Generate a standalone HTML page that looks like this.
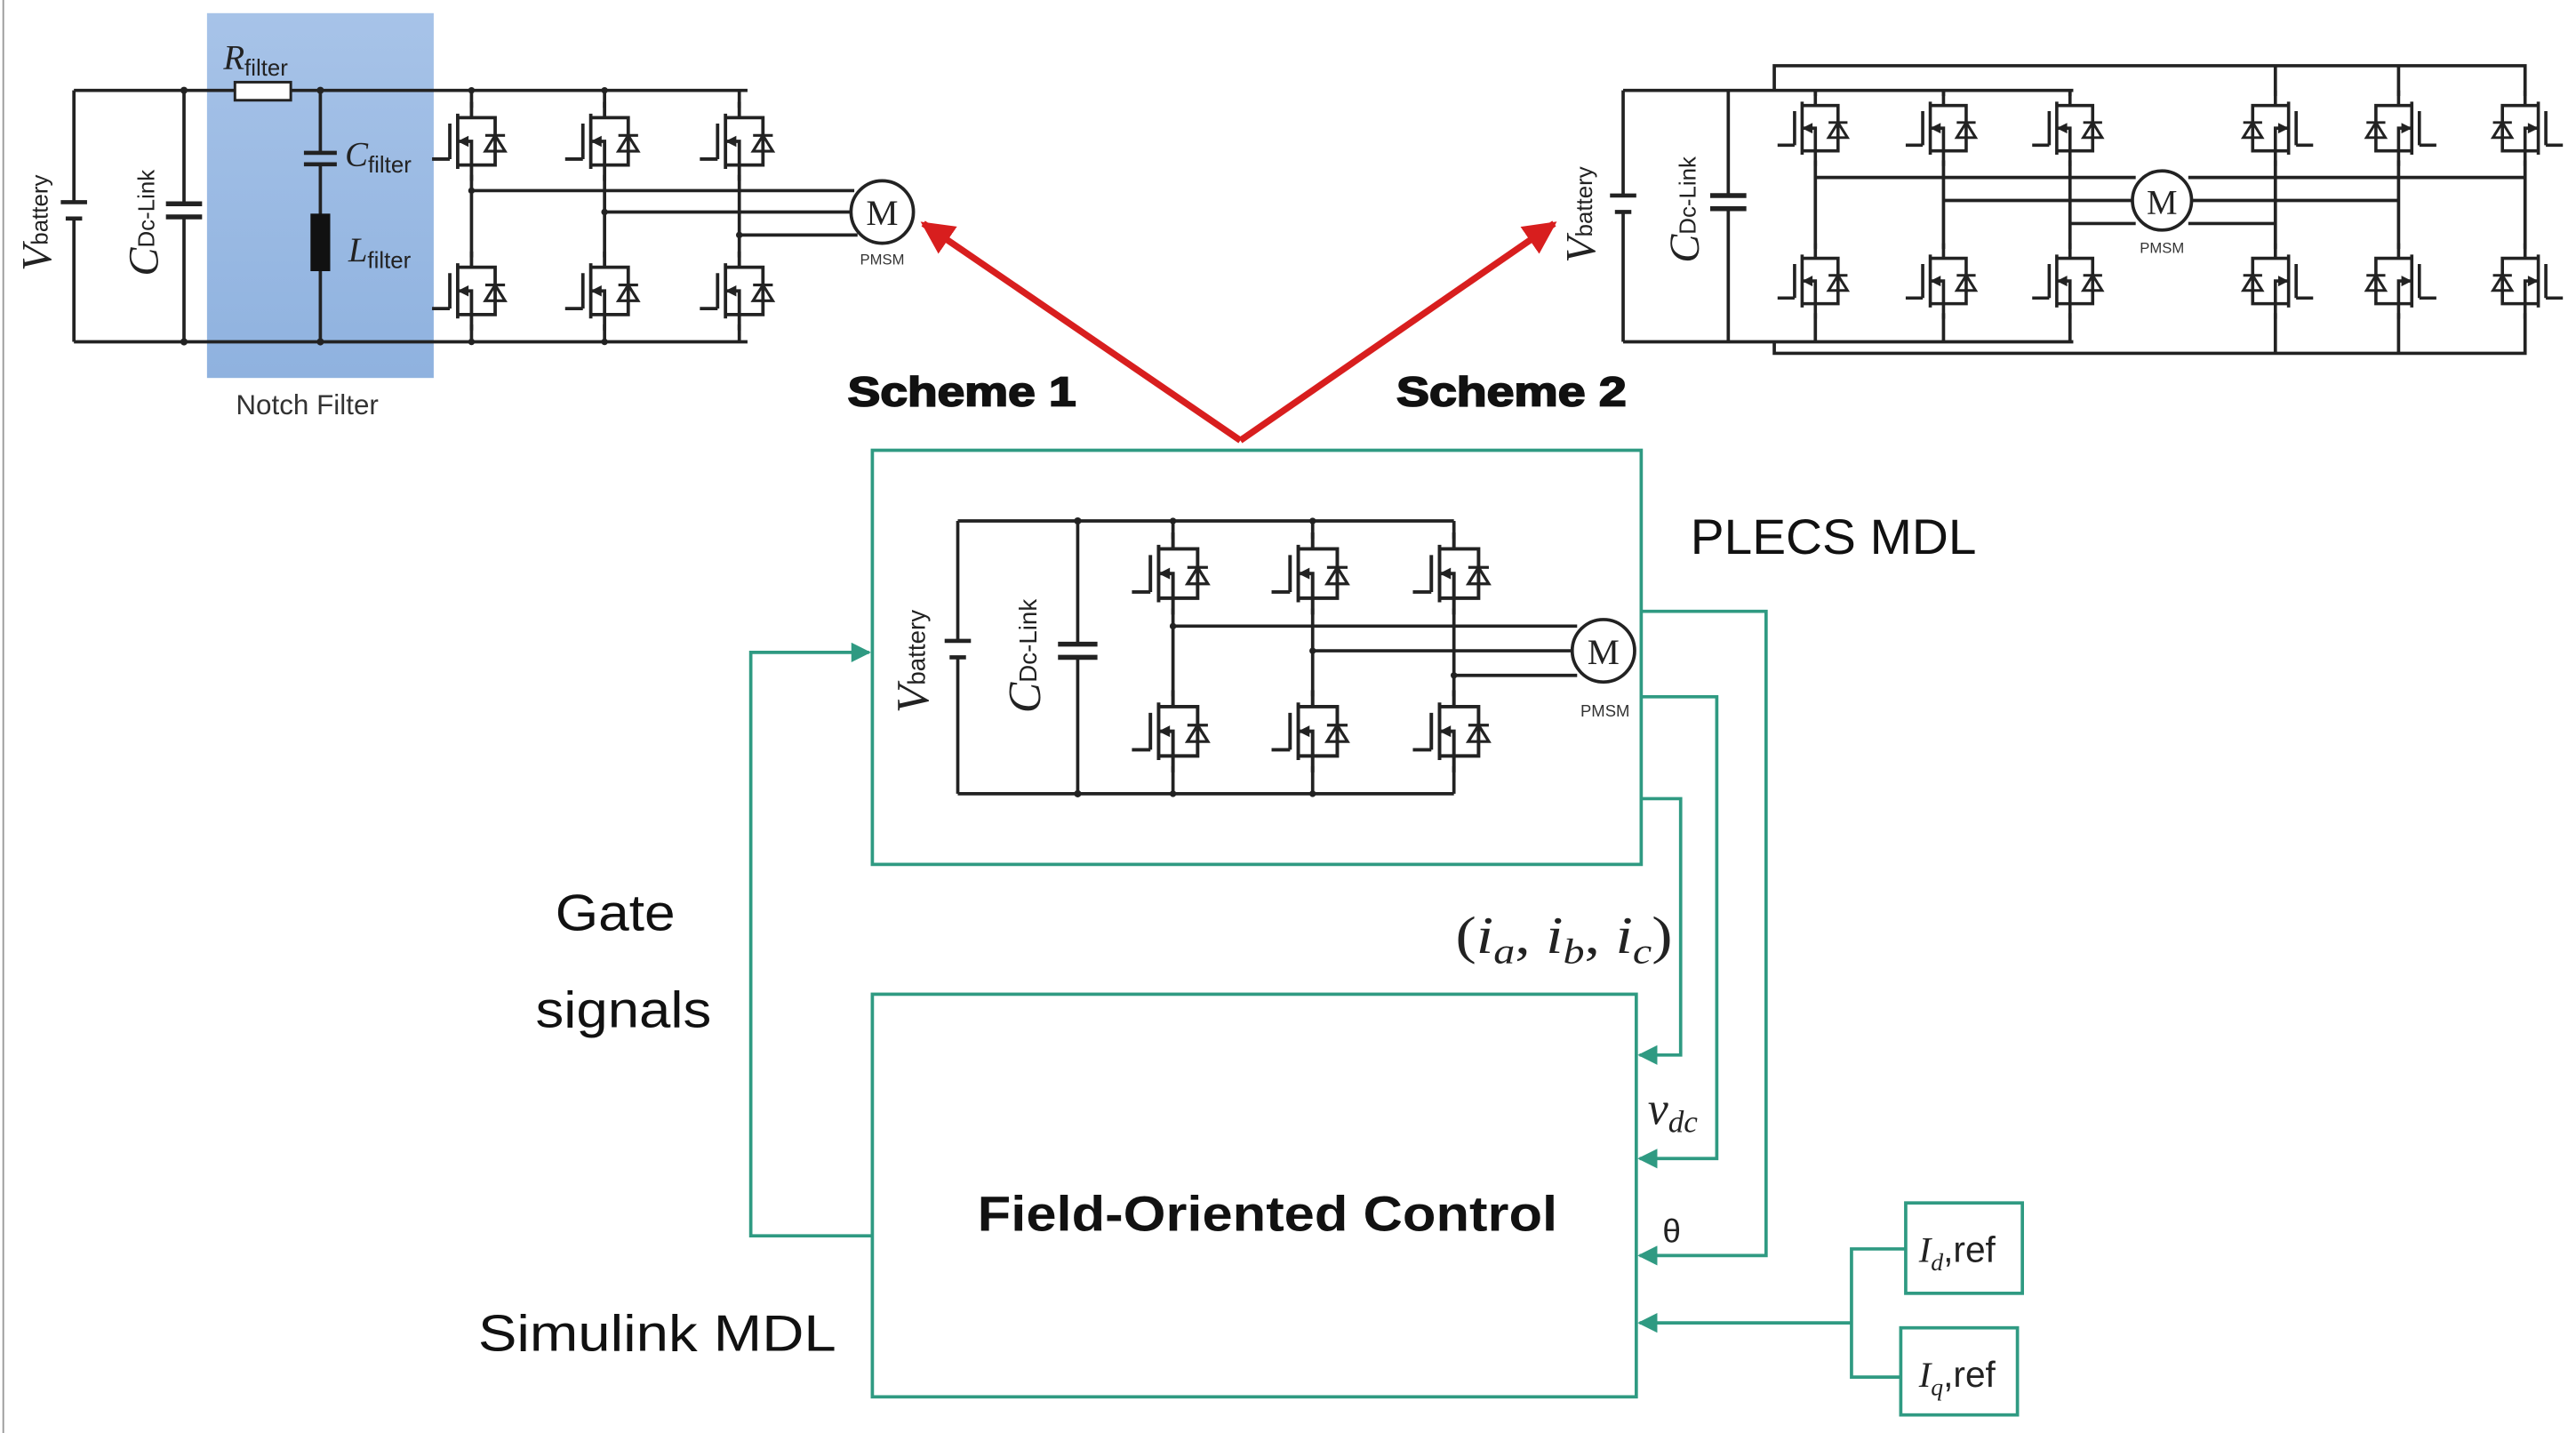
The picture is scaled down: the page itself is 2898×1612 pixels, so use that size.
<!DOCTYPE html>
<html><head><meta charset="utf-8"><style>
html,body{margin:0;padding:0;background:#fff;}
svg{display:block;}
</style></head><body>
<svg width="2898" height="1612" viewBox="0 0 1568 872" preserveAspectRatio="none" xmlns="http://www.w3.org/2000/svg">
<defs>
<g id="sw">
<rect x="-17" y="-17" width="36" height="34" fill="#fff"/>
<g fill="none" stroke="#222" stroke-width="1.7">
<path d="M0,-20 V-12 H-7 M-7,-14 V14 M-11,-9 V9 M-20,9 H-11 M-7,12 H0 V20 M-7,0 H0 V12 M0,-12 H12 V12 H0"/>
<path d="M7,5 L12,-3 L17,5 Z" stroke-width="1.4"/>
<path d="M7,-3 H17" stroke-width="1.4"/>
<path d="M-6,0 L-2,-2 L-2,2 Z" fill="#222" stroke-width="1"/>
</g>
</g>
<linearGradient id="bg" x1="0" y1="0" x2="0" y2="1"><stop offset="0" stop-color="#a7c3e8"/><stop offset="1" stop-color="#8fb2df"/></linearGradient>
<marker id="ar" viewBox="0 0 10 10" refX="9" refY="5" markerWidth="5" markerHeight="5" orient="auto"><path d="M0,0 L10,5 L0,10 Z" fill="#d81e1e"/></marker>
<marker id="ag" viewBox="0 0 10 10" refX="9" refY="5" markerWidth="6" markerHeight="6" orient="auto"><path d="M0,0 L10,5 L0,10 Z" fill="#2f9a82"/></marker>
</defs>
<line x1="2" y1="0" x2="2" y2="872" stroke="#999" stroke-width="1"/>

<!-- LEFT CIRCUIT -->
<rect x="126" y="8" width="138" height="222" fill="url(#bg)"/>
<g stroke="#222" stroke-width="2" fill="none">
<path d="M45,55 H143 M177,55 H455 M45,208 H455 M45,55 V123 M45,133 V208 M112,55 V124 M112,132 V208 M195,55 V93 M195,100 V208"/>
<rect x="143" y="50" width="34" height="11" fill="#fff" stroke-width="1.6"/>
<path d="M37,123 H53 M40,133 H50" stroke-width="2.5"/>
<path d="M101,124 H123 M101,132 H123" stroke-width="3"/>
<path d="M185,93 H205 M185,100 H205" stroke-width="2.5"/>
<path d="M287,55 V208 M368,55 V208 M450,55 V208 M287,116 H520 M368,129 H518 M450,143 H522"/>
<circle cx="537" cy="129" r="19" fill="#fff"/>
</g>
<rect x="189" y="130" width="12" height="35" fill="#111"/>
<g fill="#222"><circle cx="112" cy="55" r="2.2"/><circle cx="112" cy="208" r="2.2"/><circle cx="195" cy="55" r="2.2"/><circle cx="195" cy="208" r="2.2"/><circle cx="287" cy="55" r="2"/><circle cx="368" cy="55" r="2"/><circle cx="287" cy="208" r="2"/><circle cx="368" cy="208" r="2"/><circle cx="287" cy="116" r="2"/><circle cx="368" cy="129" r="2"/><circle cx="450" cy="143" r="2"/></g>
<use href="#sw" transform="translate(287,86) scale(1.2)"/><use href="#sw" transform="translate(368,86) scale(1.2)"/><use href="#sw" transform="translate(450,86) scale(1.2)"/>
<use href="#sw" transform="translate(287,177) scale(1.2)"/><use href="#sw" transform="translate(368,177) scale(1.2)"/><use href="#sw" transform="translate(450,177) scale(1.2)"/>
<text x="537" y="137" font-family="Liberation Serif" font-size="22" text-anchor="middle" fill="#222">M</text>
<text x="537" y="161" font-family="Liberation Sans" font-size="9" text-anchor="middle" fill="#333">PMSM</text>
<text x="136" y="42" font-family="Liberation Serif" font-style="italic" font-size="21" fill="#222">R<tspan font-size="14" font-style="normal" font-family="Liberation Sans" dy="4">filter</tspan></text>
<text x="210" y="101" font-family="Liberation Serif" font-style="italic" font-size="21" fill="#222">C<tspan font-size="14" font-style="normal" font-family="Liberation Sans" dy="4">filter</tspan></text>
<text x="212" y="159" font-family="Liberation Serif" font-style="italic" font-size="21" fill="#222">L<tspan font-size="14" font-style="normal" font-family="Liberation Sans" dy="4">filter</tspan></text>
<text transform="translate(31,165) rotate(-90)" font-family="Liberation Serif" font-style="italic" font-size="26" fill="#222">V<tspan font-size="14" font-style="normal" font-family="Liberation Sans" dy="-2">battery</tspan></text>
<text transform="translate(96,168) rotate(-90)" font-family="Liberation Serif" font-style="italic" font-size="26" fill="#222">C<tspan font-size="14" font-style="normal" font-family="Liberation Sans" dy="-2">Dc-Link</tspan></text>
<text x="187" y="252" font-family="Liberation Sans" font-size="17" text-anchor="middle" fill="#333">Notch Filter</text>

<!-- RIGHT CIRCUIT -->
<g stroke="#222" stroke-width="2" fill="none">
<path d="M988,55 H1262 M988,208 H1262 M988,55 V119 M988,129 V208 M1052,55 V119 M1052,127 V208"/>
<path d="M980,119 H996 M983,129 H993" stroke-width="2.5"/>
<path d="M1041,119 H1063 M1041,127 H1063" stroke-width="3"/>
<path d="M1080,55 V40 H1537 V215 H1080 V208 M1385,40 V215 M1460,40 V215"/>
<path d="M1105,55 V208 M1183,55 V208 M1260,55 V208"/>
<path d="M1105,108 H1300 M1332,108 H1537 M1183,122 H1298 M1334,122 H1460 M1260,136 H1300 M1332,136 H1385"/>
<circle cx="1316" cy="122" r="18" fill="#fff"/>
</g>
<use href="#sw" transform="translate(1105,78) scale(1.15)"/><use href="#sw" transform="translate(1183,78) scale(1.15)"/><use href="#sw" transform="translate(1260,78) scale(1.15)"/>
<use href="#sw" transform="translate(1105,171) scale(1.15)"/><use href="#sw" transform="translate(1183,171) scale(1.15)"/><use href="#sw" transform="translate(1260,171) scale(1.15)"/>
<use href="#sw" transform="translate(1385,78) scale(-1.15,1.15)"/><use href="#sw" transform="translate(1460,78) scale(-1.15,1.15)"/><use href="#sw" transform="translate(1537,78) scale(-1.15,1.15)"/>
<use href="#sw" transform="translate(1385,171) scale(-1.15,1.15)"/><use href="#sw" transform="translate(1460,171) scale(-1.15,1.15)"/><use href="#sw" transform="translate(1537,171) scale(-1.15,1.15)"/>
<text x="1316" y="130" font-family="Liberation Serif" font-size="21" text-anchor="middle" fill="#222">M</text>
<text x="1316" y="154" font-family="Liberation Sans" font-size="9" text-anchor="middle" fill="#333">PMSM</text>
<text transform="translate(971,160) rotate(-90)" font-family="Liberation Serif" font-style="italic" font-size="26" fill="#222">V<tspan font-size="14" font-style="normal" font-family="Liberation Sans" dy="-2">battery</tspan></text>
<text transform="translate(1034,160) rotate(-90)" font-family="Liberation Serif" font-style="italic" font-size="26" fill="#222">C<tspan font-size="14" font-style="normal" font-family="Liberation Sans" dy="-2">Dc-Link</tspan></text>

<!-- red arrows -->
<path d="M755,268 L562,136" stroke="#d81e1e" stroke-width="4" fill="none" marker-end="url(#ar)"/>
<path d="M755,268 L946,136" stroke="#d81e1e" stroke-width="4" fill="none" marker-end="url(#ar)"/>
<text x="516" y="247" font-family="Liberation Sans" font-weight="bold" font-size="25" textLength="139" lengthAdjust="spacingAndGlyphs" fill="#111" stroke="#111" stroke-width="1">Scheme 1</text>
<text x="850" y="247" font-family="Liberation Sans" font-weight="bold" font-size="25" textLength="140" lengthAdjust="spacingAndGlyphs" fill="#111" stroke="#111" stroke-width="1">Scheme 2</text>

<!-- PLECS box -->
<rect x="531" y="274" width="468" height="252" fill="none" stroke="#2f9a82" stroke-width="2"/>
<g stroke="#222" stroke-width="2" fill="none">
<path d="M583,317 H885 M583,483 H885 M583,317 V390 M583,400 V483 M656,317 V392 M656,400 V483"/>
<path d="M575,390 H591 M578,400 H588" stroke-width="2.5"/>
<path d="M644,392 H668 M644,400 H668" stroke-width="3"/>
<path d="M714,317 V483 M799,317 V483 M885,317 V483 M714,381 H960 M799,396 H957 M885,411 H960"/>
<circle cx="976" cy="396" r="19" fill="#fff"/>
</g>
<g fill="#222"><circle cx="656" cy="317" r="2.2"/><circle cx="656" cy="483" r="2.2"/><circle cx="714" cy="317" r="2"/><circle cx="799" cy="317" r="2"/><circle cx="714" cy="483" r="2"/><circle cx="799" cy="483" r="2"/><circle cx="714" cy="381" r="2"/><circle cx="799" cy="396" r="2"/><circle cx="885" cy="411" r="2"/></g>
<use href="#sw" transform="translate(714,349) scale(1.25)"/><use href="#sw" transform="translate(799,349) scale(1.25)"/><use href="#sw" transform="translate(885,349) scale(1.25)"/>
<use href="#sw" transform="translate(714,445) scale(1.25)"/><use href="#sw" transform="translate(799,445) scale(1.25)"/><use href="#sw" transform="translate(885,445) scale(1.25)"/>
<text x="976" y="404" font-family="Liberation Serif" font-size="22" text-anchor="middle" fill="#222">M</text>
<text x="977" y="436" font-family="Liberation Sans" font-size="10" text-anchor="middle" fill="#333">PMSM</text>
<text transform="translate(565,434) rotate(-90)" font-family="Liberation Serif" font-style="italic" font-size="28" fill="#222">V<tspan font-size="15" font-style="normal" font-family="Liberation Sans" dy="-2">battery</tspan></text>
<text transform="translate(633,434) rotate(-90)" font-family="Liberation Serif" font-style="italic" font-size="28" fill="#222">C<tspan font-size="15" font-style="normal" font-family="Liberation Sans" dy="-2">Dc-Link</tspan></text>
<text x="1029" y="337" font-family="Liberation Sans" font-size="30" textLength="174" lengthAdjust="spacingAndGlyphs" fill="#111">PLECS MDL</text>

<!-- FOC box -->
<rect x="531" y="605" width="465" height="245" fill="none" stroke="#2f9a82" stroke-width="2"/>
<text x="595" y="749" font-family="Liberation Sans" font-weight="bold" font-size="30" textLength="353" lengthAdjust="spacingAndGlyphs" fill="#111">Field-Oriented Control</text>
<text x="291" y="822" font-family="Liberation Sans" font-size="31" textLength="218" lengthAdjust="spacingAndGlyphs" fill="#111">Simulink MDL</text>
<text x="338" y="566" font-family="Liberation Sans" font-size="31" textLength="73" lengthAdjust="spacingAndGlyphs" fill="#111">Gate</text>
<text x="326" y="625" font-family="Liberation Sans" font-size="31" textLength="107" lengthAdjust="spacingAndGlyphs" fill="#111">signals</text>

<g stroke="#2f9a82" stroke-width="2" fill="none">
<path d="M531,752 H457 V397 H529" marker-end="url(#ag)"/>
<path d="M999,372 H1075 V764 H998" marker-end="url(#ag)"/>
<path d="M999,424 H1045 V705 H998" marker-end="url(#ag)"/>
<path d="M999,486 H1023 V642 H998" marker-end="url(#ag)"/>
<path d="M1127,805 H998" marker-end="url(#ag)"/>
<path d="M1160,760 H1127 V838 H1157"/>
<rect x="1160" y="732" width="71" height="55"/>
<rect x="1157" y="808" width="71" height="53"/>
</g>
<text x="886" y="580" font-family="Liberation Serif" font-size="32" textLength="132" lengthAdjust="spacingAndGlyphs" fill="#222">(<tspan font-style="italic">i</tspan><tspan font-style="italic" font-size="22" dy="6">a</tspan><tspan dy="-6">, </tspan><tspan font-style="italic">i</tspan><tspan font-style="italic" font-size="22" dy="6">b</tspan><tspan dy="-6">, </tspan><tspan font-style="italic">i</tspan><tspan font-style="italic" font-size="22" dy="6">c</tspan><tspan dy="-6">)</tspan></text>
<text x="1003" y="684" font-family="Liberation Serif" font-style="italic" font-size="28" fill="#222">v<tspan font-size="19" dy="5">dc</tspan></text>
<text x="1012" y="756" font-family="Liberation Sans" font-size="20" fill="#222">θ</text>
<text x="1168" y="768" font-family="Liberation Serif" font-style="italic" font-size="22" fill="#222">I<tspan font-size="15" dy="5">d</tspan><tspan font-family="Liberation Sans" font-style="normal" font-size="22" dy="-5">,ref</tspan></text>
<text x="1168" y="844" font-family="Liberation Serif" font-style="italic" font-size="22" fill="#222">I<tspan font-size="15" dy="5">q</tspan><tspan font-family="Liberation Sans" font-style="normal" font-size="22" dy="-5">,ref</tspan></text>
</svg>
</body></html>
